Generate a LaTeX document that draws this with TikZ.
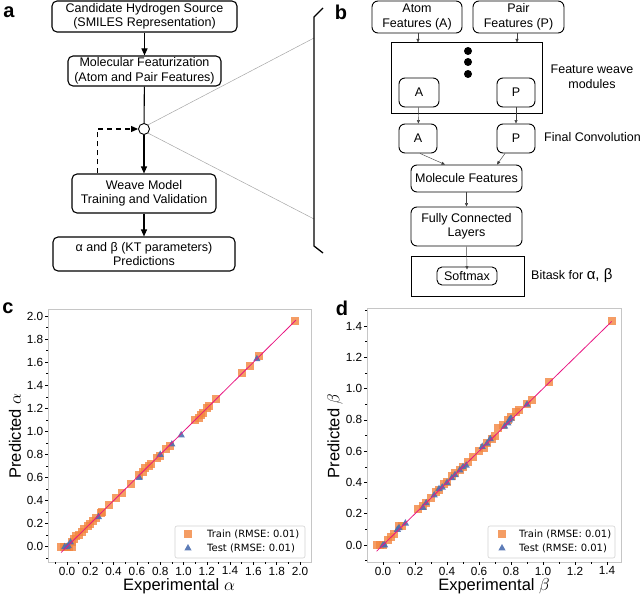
\documentclass[tikz,border=0pt]{standalone}
\usepackage{fontspec}
\setmainfont{Liberation Sans}[BoldFont={Liberation Sans Bold}]
\newfontfamily\legendfont{DejaVu Sans}
\usetikzlibrary{arrows.meta}

\definecolor{trainorange}{RGB}{242,133,62}
\definecolor{testblue}{RGB}{76,110,176}
\definecolor{fitpink}{RGB}{232,22,130}

\newcommand{\boxfont}{\fontsize{12.5}{14.5}\selectfont}
\newcommand{\tickfont}{\fontsize{11.8}{12}\selectfont}
\newcommand{\axisfont}{\fontsize{16.5}{16.5}\selectfont}
% square and triangle markers
\newcommand{\trainmark}[1]{\fill[trainorange, fill opacity=0.8] #1 ++(-4pt,-4pt) rectangle ++(8pt,8pt);}
\newcommand{\testmark}[1]{\fill[testblue, fill opacity=0.9] #1 ++(0,4pt) -- ++(-3.6pt,-6.4pt) -- ++(7.2pt,0) -- cycle;}

\tikzset{
  flowbox/.style={draw, line width=1.1pt, rounded corners=5pt, align=center, inner sep=0pt, font=\boxfont},
  netbox/.style={draw, line width=0.9pt, rounded corners=6pt, align=center, inner sep=0pt, font=\boxfont},
  flowarrow/.style={-{Triangle[length=7pt,width=6pt]}, line width=1.1pt},
  netarrow/.style={-{Triangle[length=3.5pt,width=3pt]}, line width=0.45pt, black!75},
  panel/.style={font=\fontsize{20}{20}\selectfont\bfseries, inner sep=0pt},
  legendbox/.style={draw=gray!35, fill=white, rounded corners=2pt, line width=0.6pt, inner sep=0pt},
  legendtext/.style={anchor=west, inner sep=0pt, font=\legendfont\fontsize{10}{12}\selectfont},
}

\begin{document}
\begin{tikzpicture}[x=1pt, y=-1pt]
    \useasboundingbox (0,0) rectangle (640,594);

    % Panel letters
    \node[panel] (lbla) at (9,12) {a};
    \node[panel] (lblb) at (341,12) {b};
    \node[panel] (lblc) at (8,308) {c};
    \node[panel] (lbld) at (342,308) {d};

    % Panel a: workflow
    \node[flowbox, minimum width=185pt, minimum height=31pt] (src) at (144.5,16.5) {Candidate Hydrogen Source\\(SMILES Representation)};
    \node[flowbox, minimum width=153pt, minimum height=30pt] (feat) at (144.5,71) {Molecular Featurization\\(Atom and Pair Features)};
    \node[draw, circle, line width=0.9pt, minimum size=11pt, inner sep=0pt] (hub) at (144,129) {};
    \node[flowbox, minimum width=144pt, minimum height=39pt] (train) at (144,193.5) {Weave Model\\Training and Validation};
    \node[flowbox, minimum width=182pt, minimum height=34pt] (pred) at (144,254) {α and β (KT parameters)\\Predictions};

    \draw[flowarrow] (src) -- (feat);
    \draw[line width=1.1pt] (feat) -- (hub);
    \draw[flowarrow] (hub) -- (train);
    \draw[flowarrow] (train) -- (pred);
    \draw[flowarrow, dash pattern=on 5pt off 4pt] ([xshift=26pt]train.north west) |- (hub);

    % Zoom lines and bracket
    \coordinate (zoomtop) at (314,38);
    \coordinate (zoombot) at (314,219);
    \draw[gray!70, line width=0.5pt] (hub.north east) -- (zoomtop);
    \draw[gray!70, line width=0.5pt] (hub.south east) -- (zoombot);
    \draw[line width=1.3pt] (323,8) -- (314,17) -- (314,246) -- (323,253);

    % Panel b: weave network
    \node[netbox, minimum width=90pt, minimum height=32pt] (atomin) at (417,17) {Atom\\Features (A)};
    \node[netbox, minimum width=91pt, minimum height=32pt] (pairin) at (518.5,17) {Pair\\Features (P)};
    \node[draw, line width=1pt, minimum width=151pt, minimum height=70pt, inner sep=0pt] (weave) at (466.5,78) {};
    \foreach \y in {51,62,74} {
        \fill (468,\y) circle (4pt);
    }
    \node[netbox, minimum width=40pt, minimum height=29pt] (wa) at (419,92.5) {A};
    \node[netbox, minimum width=38pt, minimum height=29pt] (wp) at (516,92.5) {P};
    \node[font=\boxfont, align=center] (weavelbl) at (592,77) {Feature weave\\modules};

    \node[netbox, minimum width=38pt, minimum height=29pt] (fa) at (418,138.5) {A};
    \node[netbox, minimum width=38pt, minimum height=29pt] (fp) at (516,138.5) {P};
    \node[font=\boxfont, anchor=west, inner sep=0pt] (convlbl) at (544,137) {Final Convolution};

    \node[netbox, minimum width=111pt, minimum height=27pt] (mol) at (466.5,178.5) {Molecule Features};
    \node[netbox, minimum width=111pt, minimum height=39pt] (fcl) at (466.5,226.5) {Fully Connected\\Layers};
    \node[draw, line width=1pt, minimum width=113pt, minimum height=40pt, inner sep=0pt] (bitask) at (467.5,276) {};
    \node[netbox, rounded corners=5pt, minimum width=60pt, minimum height=18pt] (soft) at (467,276) {Softmax};
    \node[font=\boxfont, anchor=west, inner sep=0pt] (bitasklbl) at (531,276) {Bitask for \fontsize{15}{15}\selectfont α, β};

    \draw[netarrow] ([xshift=1pt]atomin.south) -- ([xshift=1pt]atomin.south |- weave.north);
    \draw[netarrow] ([xshift=-1.5pt]pairin.south) -- ([xshift=-1.5pt]pairin.south |- weave.north);
    \draw[netarrow] (wa) -- (fa);
    \draw[netarrow] (wp) -- (fp);
    \draw[netarrow] ([xshift=2pt]fa.south) -- ([xshift=-21.5pt]mol.north);
    \draw[netarrow] ([xshift=-11pt]fp.south) -- ([xshift=30.5pt]mol.north);
    \draw[netarrow] (mol) -- (fcl);
    \draw[netarrow] (fcl.south) -- ([yshift=-3pt]soft.north);

    % Panel c: predicted vs experimental alpha
    \begin{scope}[shift={(67,546.7)}, x=116.5pt, y=115.3pt]
        \draw[gray!45, line width=0.8pt] (-0.163,-0.133) rectangle (2.094,2.06);
        % Ticks on x
        \foreach \x/\label in {0/0.0, 0.2/0.2, 0.4/0.4, 0.6/0.6, 0.8/0.8, 1/1.0, 1.2/1.2, 1.4/1.4, 1.6/1.6, 1.8/1.8, 2/2.0} {
            \draw[line width=0.6pt] (\x,-0.133) -- ++(0,-3pt) node[below, inner sep=0pt, yshift=-1.5pt, font=\tickfont] {\label};
        }
        \foreach \x in {-0.1,0.1,0.3,0.5,0.7,0.9,1.1,1.3,1.5,1.7,1.9} {
            \draw[line width=0.6pt] (\x,-0.133) -- ++(0,-1.6pt);
        }
        % Ticks on y
        \foreach \y/\label in {0/0.0, 0.2/0.2, 0.4/0.4, 0.6/0.6, 0.8/0.8, 1/1.0, 1.2/1.2, 1.4/1.4, 1.6/1.6, 1.8/1.8, 2/2.0} {
            \draw[line width=0.6pt] (-0.163,\y) -- ++(-3pt,0) node[left, inner sep=1.5pt, font=\tickfont] {\label};
        }
        \foreach \y in {-0.1,0.1,0.3,0.5,0.7,0.9,1.1,1.3,1.5,1.7,1.9} {
            \draw[line width=0.6pt] (-0.163,\y) -- ++(-1.6pt,0);
        }
        % Train and test points
        \foreach \x/\y in {-0.05/0, -0.03/0, 0/0, 0.02/0, 0.04/0, 0.04/0.04, 0.06/0.07, 0.08/0.09, 0.1/0.1,
            0.13/0.13, 0.15/0.15, 0.18/0.18, 0.2/0.2, 0.22/0.22, 0.25/0.25, 0.29/0.29, 0.3/0.3,
            0.36/0.36, 0.42/0.42, 0.47/0.47, 0.55/0.54, 0.62/0.62, 0.65/0.65, 0.67/0.68, 0.7/0.7,
            0.72/0.72, 0.77/0.77, 0.8/0.79, 0.85/0.85, 0.88/0.87,
            1.1/1.1, 1.13/1.12, 1.15/1.14, 1.17/1.16, 1.2/1.2, 1.22/1.22, 1.28/1.28,
            1.5/1.51, 1.57/1.57, 1.65/1.65, 1.96/1.96} {
            \trainmark{(\x,\y)}
        }
        \foreach \x/\y in {-0.02/0, 0/0, 0.01/0.01, 0.03/0.04, 0.27/0.26, 0.62/0.6, 0.8/0.8, 0.9/0.89,
            0.98/0.97, 1.63/1.63} {
            \testmark{(\x,\y)}
        }
        \draw[fitpink, line width=0.8pt] (-0.05,-0.05) -- (1.965,1.965);
    \end{scope}
    \node[font=\axisfont, anchor=base, inner sep=0pt] (xlabc) at (179,590) {Experimental $\alpha$};
    \node[font=\axisfont, rotate=90] (ylabc) at (15,436) {Predicted $\alpha$};
    \node[legendbox, minimum width=130pt, minimum height=32pt] (legc) at (240,542) {};
    \trainmark{(188,534)}
    \testmark{(188,548)}
    \node[legendtext] (legctrain) at (207,534) {Train (RMSE: 0.01)};
    \node[legendtext] (legctest) at (207,548) {Test (RMSE: 0.01)};

    % Panel d: predicted vs experimental beta
    \begin{scope}[shift={(383,545)}, x=160pt, y=156.4pt]
        \draw[gray!45, line width=0.8pt] (-0.1,-0.109) rectangle (1.4875,1.51);
        % Ticks on x
        \foreach \x/\label in {0/0.0, 0.2/0.2, 0.4/0.4, 0.6/0.6, 0.8/0.8, 1/1.0, 1.2/1.2, 1.4/1.4} {
            \draw[line width=0.6pt] (\x,-0.109) -- ++(0,-3pt) node[below, inner sep=0pt, yshift=-1.5pt, font=\tickfont] {\label};
        }
        \foreach \x in {0.1,0.3,0.5,0.7,0.9,1.1,1.3} {
            \draw[line width=0.6pt] (\x,-0.109) -- ++(0,-1.6pt);
        }
        % Ticks on y
        \foreach \y/\label in {0/0.0, 0.2/0.2, 0.4/0.4, 0.6/0.6, 0.8/0.8, 1/1.0, 1.2/1.2, 1.4/1.4} {
            \draw[line width=0.6pt] (-0.1,\y) -- ++(-3pt,0) node[left, inner sep=1.5pt, font=\tickfont] {\label};
        }
        \foreach \y in {-0.1,0.1,0.3,0.5,0.7,0.9,1.1,1.3,1.5} {
            \draw[line width=0.6pt] (-0.1,\y) -- ++(-1.6pt,0);
        }
        % Train and test points
        \foreach \x/\y in {-0.04/0, -0.02/0, 0/0, 0.03/0.03, 0.05/0.05, 0.07/0.07, 0.1/0.12, 0.12/0.12,
            0.22/0.23, 0.25/0.25, 0.27/0.27, 0.3/0.3, 0.33/0.34, 0.35/0.35, 0.38/0.39, 0.4/0.4,
            0.43/0.44, 0.45/0.46, 0.48/0.48, 0.5/0.5, 0.53/0.53, 0.56/0.56, 0.6/0.6, 0.63/0.62,
            0.65/0.65, 0.68/0.68, 0.7/0.7, 0.72/0.75, 0.75/0.77, 0.78/0.8, 0.8/0.82, 0.83/0.85,
            0.85/0.86, 0.9/0.9, 0.93/0.93, 1.04/1.04, 1.43/1.43} {
            \trainmark{(\x,\y)}
        }
        \foreach \x/\y in {0/0, 0.01/0, 0.09/0.1, 0.1/0.11, 0.14/0.14, 0.25/0.24, 0.27/0.27, 0.32/0.32,
            0.35/0.36, 0.37/0.37, 0.4/0.4, 0.43/0.43, 0.45/0.45, 0.48/0.48, 0.5/0.5, 0.52/0.51,
            0.62/0.63, 0.65/0.65, 0.67/0.68, 0.76/0.76, 0.78/0.78, 0.79/0.8, 0.8/0.81, 0.9/0.9} {
            \testmark{(\x,\y)}
        }
        \draw[fitpink, line width=0.8pt] (-0.04,-0.04) -- (1.43,1.43);
    \end{scope}
    \node[font=\axisfont, anchor=base, inner sep=0pt] (xlabd) at (494,590) {Experimental $\beta$};
    \node[font=\axisfont, rotate=90] (ylabd) at (335,436) {Predicted $\beta$};
    \node[legendbox, minimum width=127pt, minimum height=32pt] (legd) at (551.5,542) {};
    \trainmark{(502,534)}
    \testmark{(502,548)}
    \node[legendtext] (legdtrain) at (519,534) {Train (RMSE: 0.01)};
    \node[legendtext] (legdtest) at (519,548) {Test (RMSE: 0.01)};
\end{tikzpicture}
\end{document}
